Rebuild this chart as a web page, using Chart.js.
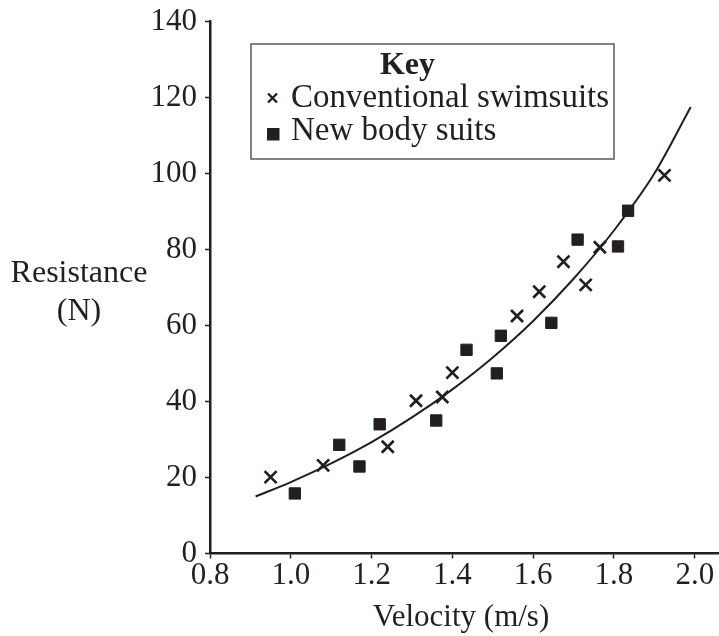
<!DOCTYPE html>
<html>
<head>
<meta charset="utf-8">
<script src="https://cdn.jsdelivr.net/npm/chart.js@4.4.0/dist/chart.umd.min.js"></script>
<style>
  html, body { margin: 0; padding: 0; background: #ffffff; }
  #wrap { width: 719px; height: 636px; }
</style>
</head>
<body>
<div id="wrap"><canvas id="c" width="719" height="636"></canvas></div>
<script>
// ---- data ----
const conventionalV = [0.95, 1.08, 1.24, 1.31, 1.375, 1.40, 1.56, 1.615, 1.675, 1.73, 1.765, 1.925];
const conventionalR = [20.1, 23.2, 28.1, 40.2, 41.2, 47.6, 62.5, 68.9, 76.8, 70.7, 80.6, 99.5];
const newSuitV = [1.01, 1.12, 1.17, 1.22, 1.36, 1.435, 1.51, 1.52, 1.645, 1.71, 1.81, 1.835];
const newSuitR = [15.8, 28.6, 22.9, 34.0, 35.0, 53.6, 47.4, 57.3, 60.7, 82.6, 80.8, 90.2];
const curveV = [0.913, 1.0, 1.1, 1.2, 1.3, 1.4, 1.5, 1.6, 1.7, 1.8, 1.9, 1.99];
const curveR = [15.0, 18.8, 23.7, 29.3, 35.8, 43.2, 51.6, 61.2, 72.3, 85.0, 100.0, 117.5];
const xTicks = [0.8, 1.0, 1.2, 1.4, 1.6, 1.8, 2.0];
const yTicks = [0, 20, 40, 60, 80, 100, 120, 140];
const seriesLabels = ['Conventional swimsuits', 'New body suits'];
const keyTitle = 'Key';
const xTitle = 'Velocity (m/s)';
const yTitleLines = ['Resistance', '(N)'];

const INK = '#231f20';
const FONT = '"Liberation Serif", "Times New Roman", serif';

const toPts = (xs, ys) => xs.map((x, i) => ({ x: x, y: ys[i] }));

const annotate = {
  id: 'annotate',
  afterDraw(chart) {
    const ctx = chart.ctx;
    ctx.save();
    ctx.fillStyle = INK;
    // y title
    ctx.font = '32px ' + FONT;
    ctx.textAlign = 'center';
    ctx.textBaseline = 'alphabetic';
    ctx.fillText(yTitleLines[0], 79, 282);
    ctx.fillText(yTitleLines[1], 79, 320);
    // x title
    ctx.font = '31px ' + FONT;
    ctx.fillText(xTitle, 461, 626);
    // key box
    ctx.strokeStyle = '#58595b';
    ctx.lineWidth = 1.5;
    ctx.strokeRect(251, 44, 363, 115);
    ctx.font = 'bold 32px ' + FONT;
    ctx.textAlign = 'center';
    ctx.fillText(keyTitle, 407.5, 74);
    ctx.font = '33px ' + FONT;
    ctx.textAlign = 'left';
    ctx.fillText(seriesLabels[0], 291, 107);
    ctx.fillText(seriesLabels[1], 291, 140);
    // key markers
    ctx.strokeStyle = INK;
    ctx.lineWidth = 2.4;
    ctx.beginPath();
    ctx.moveTo(268, 93.5); ctx.lineTo(277, 102.5);
    ctx.moveTo(277, 93.5); ctx.lineTo(268, 102.5);
    ctx.stroke();
    ctx.fillRect(267, 128, 12.5, 12.5);
    ctx.restore();
  }
};

new Chart(document.getElementById('c'), {
  type: 'scatter',
  data: {
    datasets: [
      {
        label: seriesLabels[0],
        data: toPts(conventionalV, conventionalR),
        pointStyle: 'crossRot',
        pointRadius: 8.5,
        borderColor: INK,
        backgroundColor: INK,
        pointBorderWidth: 2.7
      },
      {
        label: seriesLabels[1],
        data: toPts(newSuitV, newSuitR),
        pointStyle: 'rect',
        pointRadius: 8,
        borderColor: INK,
        backgroundColor: INK,
        pointBorderWidth: 1
      },
      {
        label: 'fit',
        type: 'line',
        data: toPts(curveV, curveR),
        showLine: true,
        pointRadius: 0,
        borderColor: INK,
        borderWidth: 2,
        fill: false,
        cubicInterpolationMode: 'monotone'
      }
    ]
  },
  options: {
    responsive: false,
    animation: false,
    devicePixelRatio: 1,
    layout: { autoPadding: false, padding: { top: 21.5, right: 0, bottom: 0, left: 0 } },
    plugins: { legend: { display: false }, tooltip: { enabled: false } },
    scales: {
      x: {
        type: 'linear',
        min: 0.8,
        max: 2.06,
        afterBuildTicks: (s) => { s.ticks = xTicks.map(v => ({ value: v })); },
        afterFit: (s) => { s.height = 82.5; s.paddingLeft = 0; s.paddingRight = 0; },
        border: { display: true, color: INK, width: 2.5 },
        grid: { display: true, drawOnChartArea: false, drawTicks: true, tickLength: 5, tickColor: INK, tickWidth: 1.5 },
        ticks: {
          color: INK,
          padding: -1,
          font: { family: FONT, size: 31 },
          maxRotation: 0,
          autoSkip: false,
          callback: (v) => Number(v).toFixed(1)
        }
      },
      y: {
        type: 'linear',
        min: 0,
        max: 140,
        afterBuildTicks: (s) => { s.ticks = yTicks.map(v => ({ value: v })); },
        afterFit: (s) => { s.width = 210; s.paddingTop = 0; s.paddingBottom = 0; },
        border: { display: true, color: INK, width: 2.5 },
        grid: { display: true, drawOnChartArea: false, drawTicks: true, tickLength: 5, tickColor: INK, tickWidth: 1.5 },
        ticks: {
          color: INK,
          padding: 8,
          font: { family: FONT, size: 31 },
          autoSkip: false,
          callback: (v) => String(v)
        }
      }
    }
  },
  plugins: [annotate]
});
</script>
</body>
</html>
